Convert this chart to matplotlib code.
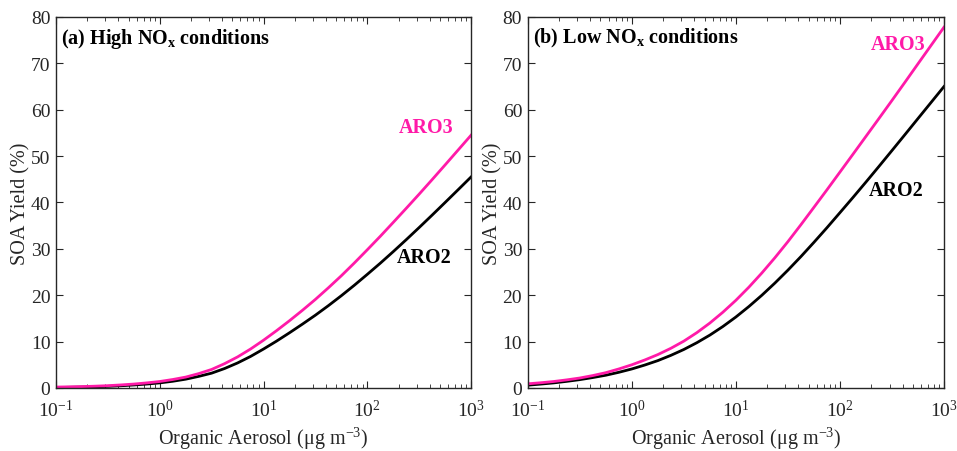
import matplotlib
matplotlib.use("Agg")
import matplotlib.pyplot as plt
import numpy as np

plt.rcParams['font.family'] = ['Liberation Serif', 'DejaVu Serif']
plt.rcParams['mathtext.fontset'] = 'custom'
plt.rcParams['mathtext.rm'] = 'Liberation Serif'
plt.rcParams['mathtext.it'] = 'Liberation Serif:italic'
plt.rcParams['mathtext.bf'] = 'Liberation Serif:bold'

# organic aerosol loading, log10 of ug m-3, read every 1/8 decade
log_oa = [-1, -0.875, -0.75, -0.625, -0.5, -0.375, -0.25, -0.125,
          0, 0.125, 0.25, 0.375, 0.5, 0.625, 0.75, 0.875,
          1, 1.125, 1.25, 1.375, 1.5, 1.625, 1.75, 1.875,
          2, 2.125, 2.25, 2.375, 2.5, 2.625, 2.75, 2.875, 3]

# (a) high NOx, SOA yield %
high_aro2 = [0.1, 0.145, 0.2, 0.27, 0.35, 0.48, 0.65, 0.85,
             1.1, 1.45, 1.9, 2.5, 3.2, 4.2, 5.4, 6.8,
             8.4, 10.1, 11.9, 13.77, 15.7, 17.75, 19.9, 22.15,
             24.5, 26.9, 29.4, 31.97, 34.6, 37.28, 40.0, 42.74, 45.5]
high_aro3 = [0.2, 0.245, 0.3, 0.39, 0.5, 0.66, 0.85, 1.1,
             1.4, 1.83, 2.35, 3.1, 4.0, 5.25, 6.7, 8.4,
             10.3, 12.35, 14.5, 16.75, 19.1, 21.6, 24.2, 26.95,
             29.8, 32.7, 35.7, 38.73, 41.8, 44.93, 48.1, 51.3, 54.5]

# (b) low NOx, SOA yield %
low_aro2 = [0.6, 0.84, 1.1, 1.43, 1.8, 2.25, 2.75, 3.38,
            4.1, 4.95, 5.9, 7.03, 8.3, 9.76, 11.4, 13.25,
            15.3, 17.56, 20.0, 22.62, 25.4, 28.33, 31.4, 34.55,
            37.8, 41.07, 44.4, 47.78, 51.2, 54.64, 58.1, 61.55, 65.0]
low_aro3 = [0.9, 1.13, 1.4, 1.75, 2.15, 2.68, 3.3, 4.1,
            5.0, 6.04, 7.2, 8.55, 10.1, 11.93, 14.0, 16.33,
            18.9, 21.73, 24.8, 28.08, 31.55, 35.2, 38.95, 42.72,
            46.55, 50.39, 54.25, 58.11, 62.0, 65.93, 69.9, 73.85, 77.8]

titles = [r'(a) High NO$_\mathbf{x}$ conditions', r'(b) Low NO$_\mathbf{x}$ conditions']

pink = '#ff1aa8'
axcol = '#262626'

fig = plt.figure(figsize=(9.57, 4.52), dpi=100)
ax1 = fig.add_axes([0.0585, 0.1394, 0.4337, 0.8208])
ax2 = fig.add_axes([0.5514, 0.1394, 0.4350, 0.8208])

x = 10 ** np.array(log_oa)
panels = [(ax1, high_aro2, high_aro3), (ax2, low_aro2, low_aro3)]
for i, (ax, a2, a3) in enumerate(panels):
    ax.plot(x, a2, color='black', lw=2)
    ax.plot(x, a3, color=pink, lw=2)
    ax.set_xscale('log')
    ax.set_xlim(0.1, 1000)
    ax.set_ylim(0, 80)
    ax.set_yticks(np.arange(0, 81, 10))
    ax.tick_params(which='both', direction='in', top=True, right=True,
                   colors=axcol, labelsize=14)
    ax.tick_params(axis='y', pad=4)
    ax.tick_params(axis='x', pad=8)
    ax.tick_params(which='major', length=5)
    ax.tick_params(which='minor', length=3)
    for s in ax.spines.values():
        s.set_color(axcol)
        s.set_linewidth(1)
    ax.set_xlabel(r'Organic Aerosol ($\mathregular{\mu}$g m$^{-3}$)', fontsize=14.5,
                  color=axcol, labelpad=3)
    ax.set_ylabel('SOA Yield (%)', fontsize=14.5, color=axcol, labelpad=0)
    ax.text(0.012, 0.975, titles[i], transform=ax.transAxes, fontsize=14.5,
            fontweight='bold', va='top', ha='left')

ax1.text(368, 56.2, 'ARO3', color=pink, fontsize=14.5, fontweight='bold', ha='center', va='center')
ax1.text(352, 28.2, 'ARO2', color='black', fontsize=14.5, fontweight='bold', ha='center', va='center')
ax2.text(361, 74.1, 'ARO3', color=pink, fontsize=14.5, fontweight='bold', ha='center', va='center')
ax2.text(345, 42.7, 'ARO2', color='black', fontsize=14.5, fontweight='bold', ha='center', va='center')

fig.savefig('out.png', dpi=100)
